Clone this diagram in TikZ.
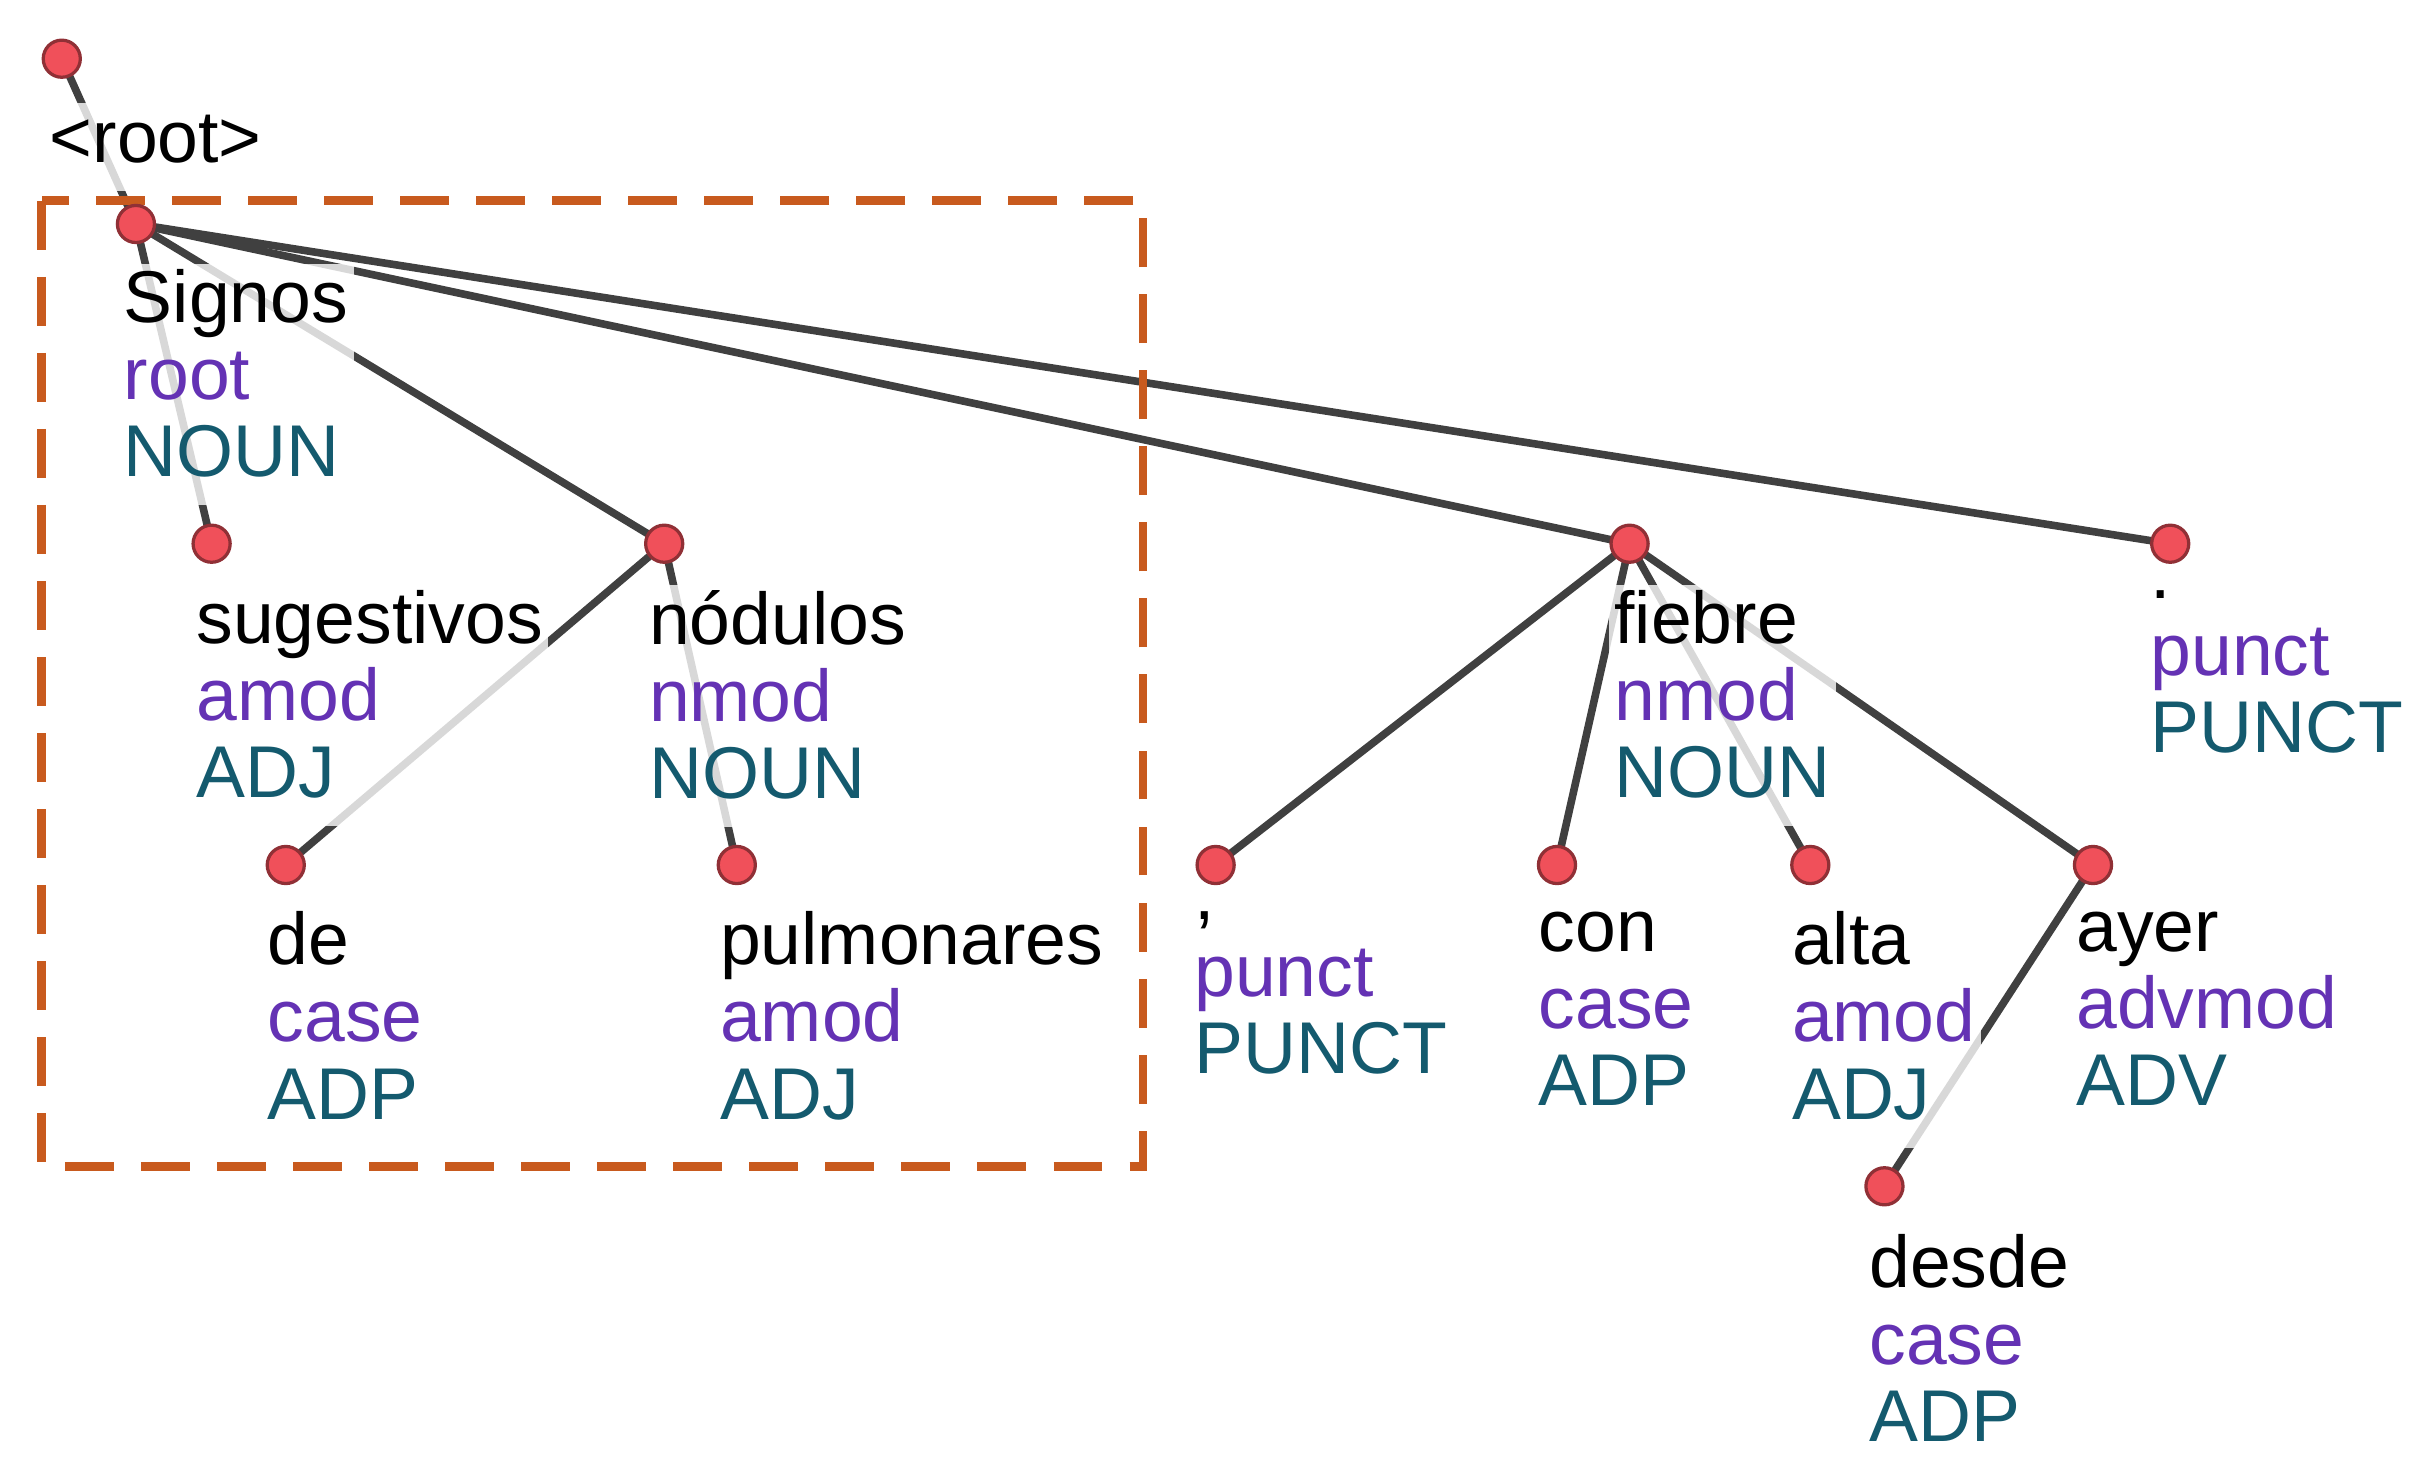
\documentclass[tikz,border=0pt]{standalone}
\usepackage{fontspec}
\setmainfont{Liberation Sans}
\begin{document}
\definecolor{rel}{RGB}{100,50,180}
\definecolor{pos}{RGB}{20,90,110}
\definecolor{boxc}{RGB}{200,90,30}
\definecolor{dotc}{RGB}{240,80,90}
\begin{tikzpicture}[x=0.01cm,y=-0.01cm,
  dot/.style={circle,fill=dotc,draw=dotc!60!black,line width=0.6pt,minimum size=0.24cm,inner sep=0pt},
  edge/.style={draw=black!75,line width=1.4pt},
  tok/.style={anchor=north west,align=left,inner sep=1pt,fill=white,fill opacity=0.8,text opacity=1,
    font=\fontsize{13.5}{14.2}\selectfont,execute at begin node=\strut}]
\useasboundingbox (0,0) rectangle (1568,948);
% dots (coordinates)
\coordinate (r) at (40,38);
\coordinate (sig) at (88,145);
\coordinate (sug) at (137,352);
\coordinate (nod) at (430,352);
\coordinate (de) at (185,560);
\coordinate (pul) at (477,560);
\coordinate (fie) at (1055,352);
\coordinate (per) at (1405,352);
\coordinate (com) at (787,560);
\coordinate (con) at (1008,560);
\coordinate (alt) at (1172,560);
\coordinate (aye) at (1355,560);
\coordinate (des) at (1220,768);
% edges
\foreach \a/\b in {r/sig,sig/sug,sig/nod,sig/fie,sig/per,nod/de,nod/pul,fie/com,fie/con,fie/alt,fie/aye,aye/des}
  \draw[edge] (\a) -- (\b);
% box
\draw[boxc,line width=1.6pt,dash pattern=on 9pt off 5pt] (27,130) rectangle (740,755);
% labels
\node[tok] (lroot) at (28,66) {<root>};
\node[tok] (lsig) at (76,170) {Signos\\\textcolor{rel}{root}\\\textcolor{pos}{NOUN}};
\node[tok] (lsug) at (123,378) {sugestivos\\\textcolor{rel}{amod}\\\textcolor{pos}{ADJ}};
\node[tok] (lnod) at (416,378) {nódulos\\\textcolor{rel}{nmod}\\\textcolor{pos}{NOUN}};
\node[tok] (lfie) at (1041,378) {fiebre\\\textcolor{rel}{nmod}\\\textcolor{pos}{NOUN}};
\node[tok] (lper) at (1388,378) {.\\\textcolor{rel}{punct}\\\textcolor{pos}{PUNCT}};
\node[tok] (lde) at (169,586) {de\\\textcolor{rel}{case}\\\textcolor{pos}{ADP}};
\node[tok] (lpul) at (462,586) {pulmonares\\\textcolor{rel}{amod}\\\textcolor{pos}{ADJ}};
\node[tok] (lcom) at (769,586) {,\\\textcolor{rel}{punct}\\\textcolor{pos}{PUNCT}};
\node[tok] (lcon) at (992,586) {con\\\textcolor{rel}{case}\\\textcolor{pos}{ADP}};
\node[tok] (lalt) at (1156,586) {alta\\\textcolor{rel}{amod}\\\textcolor{pos}{ADJ}};
\node[tok] (laye) at (1340,586) {ayer\\\textcolor{rel}{advmod}\\\textcolor{pos}{ADV}};
\node[tok] (ldes) at (1206,795) {desde\\\textcolor{rel}{case}\\\textcolor{pos}{ADP}};
% dots on top
\foreach \p in {r,sig,sug,nod,de,pul,fie,per,com,con,alt,aye,des}
  \node[dot] (d\p) at (\p) {};
\end{tikzpicture}
\end{document}
